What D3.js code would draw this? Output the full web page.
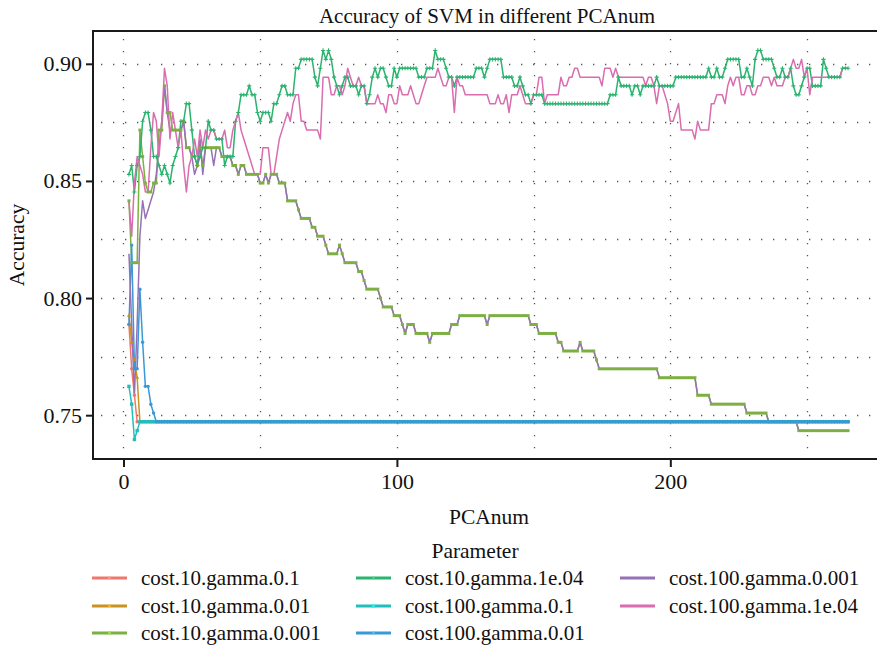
<!DOCTYPE html>
<html>
<head>
<meta charset="utf-8">
<script src="https://cdn.jsdelivr.net/npm/d3@7"></script>
<style>
  body { margin: 0; background: #ffffff; }
  svg text { font-family: "Liberation Serif", "Times New Roman", serif; fill: #111; }
</style>
</head>
<body>
<svg id="chart" width="877" height="650"></svg>
<script>
// ---- data: accuracy per number of principal components -------------------
// Each series is a list of [PCAnum, accuracy] change points; the accuracy
// holds for every PCAnum until the next change point.
const pcaFirst = 2;
const pcaLast = 265;

const seriesNames = [
  "cost.10.gamma.0.1", "cost.10.gamma.0.01", "cost.10.gamma.0.001",
  "cost.10.gamma.1e.04", "cost.100.gamma.0.1", "cost.100.gamma.0.01",
  "cost.100.gamma.0.001", "cost.100.gamma.1e.04"
];
const seriesColors = [
  "#F0776D", "#C99221", "#7DB042", "#2BB36F",
  "#22BEBE", "#3A98D5", "#9771B7", "#D96DB0"
];
const seriesMarkers = ["circle", "triangle", "square", "plus", "square", "circle", "none", "none"];

const cost10gamma01 = [[2,0.7887],[3,0.7698],[4,0.7585],[5,0.7472]];
const cost10gamma001 = [[2,0.7925],[3,0.7811],[4,0.7736],[5,0.7660],[6,0.7472]];
const cost10gamma0001 = [
  [2,0.8415],[3,0.8151],[6,0.8717],[7,0.8604],[8,0.8491],[9,0.8453],[11,0.8491],
  [13,0.8717],[15,0.8906],[16,0.8792],[18,0.8717],[22,0.8755],[23,0.8642],[25,0.8604],
  [27,0.8566],[28,0.8642],[29,0.8566],[30,0.8642],[36,0.8604],[40,0.8566],[42,0.8528],
  [43,0.8566],[45,0.8528],[50,0.8491],[52,0.8528],[53,0.8491],[54,0.8528],[57,0.8491],
  [60,0.8415],[64,0.8377],[65,0.8340],[69,0.8302],[71,0.8264],[74,0.8226],[75,0.8189],
  [79,0.8226],[80,0.8189],[81,0.8151],[86,0.8113],[88,0.8075],[89,0.8038],[94,0.8000],
  [95,0.7962],[99,0.7925],[102,0.7887],[103,0.7849],[104,0.7887],[107,0.7849],[112,0.7811],
  [113,0.7849],[120,0.7887],[123,0.7925],[133,0.7887],[134,0.7925],[149,0.7887],[152,0.7849],
  [159,0.7811],[161,0.7774],[167,0.7811],[168,0.7774],[173,0.7736],[174,0.7698],[196,0.7660],
  [210,0.7585],[215,0.7547],[228,0.7509],[236,0.7472],[247,0.7434]
];
const cost10gamma1e04 = [
  [2,0.8528],[3,0.8566],[4,0.8453],[5,0.8566],[6,0.8604],[7,0.8755],[8,0.8792],[10,0.8717],
  [11,0.8604],[13,0.8566],[14,0.8528],[15,0.8566],[16,0.8528],[17,0.8491],[18,0.8566],
  [19,0.8604],[20,0.8642],[21,0.8755],[23,0.8830],[25,0.8717],[26,0.8604],[27,0.8566],
  [28,0.8604],[29,0.8642],[31,0.8755],[32,0.8717],[34,0.8679],[37,0.8566],[38,0.8604],
  [41,0.8755],[42,0.8792],[43,0.8868],[46,0.8906],[47,0.8868],[49,0.8792],[50,0.8755],
  [51,0.8792],[54,0.8755],[55,0.8830],[57,0.8868],[58,0.8906],[60,0.8868],[63,0.8981],
  [65,0.9019],[70,0.8943],[71,0.8906],[72,0.8981],[73,0.9057],[74,0.9019],[75,0.9057],
  [76,0.9019],[77,0.8943],[78,0.8906],[79,0.8868],[80,0.8906],[81,0.8943],[83,0.8906],
  [86,0.8868],[87,0.8906],[89,0.8830],[90,0.8868],[91,0.8943],[92,0.8981],[93,0.8943],
  [94,0.8981],[96,0.8943],[97,0.8906],[99,0.8981],[100,0.8943],[101,0.8981],[108,0.8943],
  [111,0.8981],[114,0.9057],[115,0.9019],[118,0.8981],[119,0.8943],[121,0.8906],[122,0.8943],
  [129,0.8981],[132,0.8943],[133,0.8981],[134,0.9019],[139,0.8943],[143,0.8906],[145,0.8943],
  [146,0.8906],[147,0.8868],[149,0.8830],[150,0.8868],[154,0.8830],[178,0.8868],[181,0.8943],
  [182,0.8906],[186,0.8868],[187,0.8906],[189,0.8868],[190,0.8906],[195,0.8943],[196,0.8906],
  [202,0.8943],[214,0.8981],[215,0.8943],[217,0.8981],[218,0.8943],[220,0.8981],[221,0.9019],
  [226,0.8943],[228,0.8981],[229,0.8943],[230,0.8906],[231,0.9019],[232,0.9057],[234,0.9019],
  [238,0.8981],[239,0.8943],[241,0.8981],[242,0.8943],[244,0.8981],[245,0.8906],[246,0.8868],
  [248,0.8906],[249,0.8943],[250,0.8981],[252,0.8906],[256,0.9019],[257,0.8981],[258,0.8943],
  [263,0.8981]
];
const cost100gamma01 = [[2,0.7623],[3,0.7547],[4,0.7396],[5,0.7434],[6,0.7472]];
const cost100gamma001 = [
  [2,0.7887],[3,0.8226],[4,0.7698],[6,0.8038],[7,0.7811],[8,0.7623],[10,0.7547],
  [11,0.7509],[12,0.7472]
];
const cost100gamma0001 = [
  [2,0.8189],[3,0.7887],[4,0.7585],[5,0.7887],[6,0.8264],[7,0.8415],[8,0.8340],[9,0.8377],
  [10,0.8415],[11,0.8453],[12,0.8528],[13,0.8642],[14,0.8755],[15,0.8906],[16,0.8792],
  [17,0.8717],[22,0.8755],[23,0.8642],[25,0.8604],[26,0.8528],[27,0.8566],[28,0.8679],
  [29,0.8528],[30,0.8642],[33,0.8566],[34,0.8642],[36,0.8604],[40,0.8566],[42,0.8528],
  [43,0.8566],[45,0.8528],[50,0.8491],[52,0.8528],[53,0.8491],[54,0.8528],[57,0.8491],
  [60,0.8415],[64,0.8377],[65,0.8340],[69,0.8302],[71,0.8264],[74,0.8226],[75,0.8189],
  [79,0.8226],[80,0.8189],[81,0.8151],[86,0.8113],[88,0.8075],[89,0.8038],[94,0.8000],
  [95,0.7962],[99,0.7925],[102,0.7887],[103,0.7849],[104,0.7887],[107,0.7849],[112,0.7811],
  [113,0.7849],[120,0.7887],[123,0.7925],[133,0.7887],[134,0.7925],[149,0.7887],[152,0.7849],
  [159,0.7811],[161,0.7774],[167,0.7811],[168,0.7774],[173,0.7736],[174,0.7698],[196,0.7660],
  [210,0.7585],[215,0.7547],[228,0.7509],[236,0.7472],[247,0.7434]
];
const cost100gamma1e04 = [
  [2,0.8415],[3,0.8264],[4,0.8491],[5,0.8604],[6,0.8566],[7,0.8528],[8,0.8453],[10,0.8642],
  [11,0.8792],[12,0.8755],[13,0.8604],[14,0.8755],[15,0.8981],[16,0.8906],[17,0.8679],
  [18,0.8792],[19,0.8717],[20,0.8642],[21,0.8717],[22,0.8566],[23,0.8453],[24,0.8566],
  [25,0.8604],[26,0.8679],[27,0.8604],[28,0.8717],[29,0.8642],[30,0.8717],[31,0.8679],
  [32,0.8717],[34,0.8679],[37,0.8717],[38,0.8642],[40,0.8717],[41,0.8755],[42,0.8792],
  [43,0.8717],[44,0.8679],[45,0.8642],[46,0.8604],[47,0.8566],[48,0.8528],[51,0.8642],
  [54,0.8528],[56,0.8604],[57,0.8679],[58,0.8717],[59,0.8755],[60,0.8792],[61,0.8755],
  [62,0.8830],[63,0.8868],[65,0.8755],[67,0.8717],[72,0.8679],[73,0.8943],[76,0.8868],
  [78,0.8906],[80,0.8868],[81,0.8906],[82,0.8981],[83,0.8943],[84,0.8906],[86,0.8943],
  [87,0.8906],[89,0.8830],[93,0.8868],[94,0.8830],[96,0.8792],[97,0.8868],[99,0.8830],
  [101,0.8906],[102,0.8868],[105,0.8906],[106,0.8868],[107,0.8830],[109,0.8868],[110,0.8906],
  [111,0.8943],[115,0.8981],[116,0.8943],[117,0.8906],[119,0.8943],[121,0.8792],[122,0.8943],
  [123,0.8906],[125,0.8868],[134,0.8830],[137,0.8868],[138,0.8830],[140,0.8868],[141,0.8792],
  [142,0.8868],[145,0.8906],[146,0.8868],[147,0.8830],[150,0.8868],[152,0.8943],[154,0.8830],
  [155,0.8868],[160,0.8943],[161,0.8906],[163,0.8943],[165,0.8981],[167,0.8943],[175,0.8906],
  [176,0.8981],[179,0.8943],[180,0.8981],[181,0.8943],[191,0.8906],[192,0.8943],[194,0.8906],
  [195,0.8830],[196,0.8906],[198,0.8868],[199,0.8830],[200,0.8755],[202,0.8792],[203,0.8830],
  [204,0.8717],[209,0.8679],[210,0.8755],[211,0.8717],[215,0.8830],[217,0.8868],[220,0.8830],
  [221,0.8906],[222,0.8943],[223,0.8906],[224,0.8943],[226,0.8868],[228,0.8906],[230,0.8868],
  [232,0.8906],[234,0.8943],[237,0.8906],[238,0.8943],[239,0.8906],[242,0.8943],[244,0.8981],
  [245,0.9019],[246,0.8981],[248,0.9019],[249,0.8943],[250,0.8981],[251,0.8868],[252,0.8943],
  [263,0.8981]
];

const seriesSteps = [
  cost10gamma01, cost10gamma001, cost10gamma0001, cost10gamma1e04,
  cost100gamma01, cost100gamma001, cost100gamma0001, cost100gamma1e04
];

const xTickValues = [0, 100, 200];
const xMinorValues = [50, 150, 250];
const yTickValues = [0.75, 0.80, 0.85, 0.90];
const yMinorValues = [0.775, 0.825, 0.875];

// ---- expand change points to one value per PCAnum ------------------------
function expand(steps) {
  const out = [];
  let k = 0;
  for (let n = pcaFirst; n <= pcaLast; n++) {
    while (k + 1 < steps.length && steps[k + 1][0] <= n) k++;
    out.push({ pca: n, acc: steps[k][1] });
  }
  return out;
}
const series = seriesNames.map((name, i) => ({
  name, color: seriesColors[i], marker: seriesMarkers[i], values: expand(seriesSteps[i])
}));

// ---- layout ---------------------------------------------------------------
const svg = d3.select("#chart");
const panel = { left: 93, top: 31, right: 884, bottom: 459 };

const allAcc = series.flatMap(s => s.values.map(v => v.acc));
const [yLo, yHi] = d3.extent(allAcc);
const yPad = (yHi - yLo) * 0.05;
const xPad = (pcaLast - pcaFirst) * 0.05;

const x = d3.scaleLinear().domain([pcaFirst - xPad, pcaLast + xPad]).range([panel.left, panel.right]);
const y = d3.scaleLinear().domain([yLo - yPad, yHi + yPad]).range([panel.bottom, panel.top]);

// dotted grid (major and minor)
const grid = svg.append("g").attr("stroke", "#555").attr("stroke-width", 1.3)
  .attr("stroke-dasharray", "1.3,10.7").attr("fill", "none");
grid.selectAll("line.gy").data(yTickValues.concat(yMinorValues)).join("line")
  .attr("x1", panel.left + 8).attr("x2", panel.right)
  .attr("y1", d => Math.round(y(d)) + 0.5).attr("y2", d => Math.round(y(d)) + 0.5);
grid.selectAll("line.gx").data(xTickValues.concat(xMinorValues)).join("line")
  .attr("y1", panel.top + 8).attr("y2", panel.bottom)
  .attr("x1", d => Math.round(x(d)) + 0.5).attr("x2", d => Math.round(x(d)) + 0.5);

// series lines
const line = d3.line().x(d => x(d.pca)).y(d => y(d.acc));
const plot = svg.append("g");
plot.selectAll("path.series").data(series).join("path")
  .attr("class", "series")
  .attr("fill", "none")
  .attr("stroke", d => d.color)
  .attr("stroke-width", 1.5)
  .attr("stroke-linejoin", "round")
  .attr("d", d => line(d.values));

// point markers, drawn over every line
function markerPath(kind, size) {
  if (kind === "plus") { const h = size / 2; return `M${-h},0H${h}M0,${-h}V${h}`; }
  if (kind === "square") return d3.symbol(d3.symbolSquare, size * size)();
  if (kind === "triangle") return d3.symbol(d3.symbolTriangle, size * size * 0.6)();
  return d3.symbol(d3.symbolCircle, size * size * 0.8)();
}
const markerSize = { circle: 3.4, triangle: 3.4, square: 3.0, plus: 4.2 };
series.forEach((s, i) => {
  if (s.marker === "none") return;
  const sz = (i === 4) ? 3.4 : markerSize[s.marker];
  const path = markerPath(s.marker, sz);
  plot.append("g").selectAll("path").data(s.values).join("path")
    .attr("transform", d => `translate(${x(d.pca)},${y(d.acc)})`)
    .attr("d", path)
    .attr("fill", s.marker === "plus" ? "none" : s.color)
    .attr("stroke", s.marker === "plus" ? s.color : "none")
    .attr("stroke-width", 1.1);
});

// panel frame
svg.append("rect")
  .attr("x", panel.left).attr("y", panel.top)
  .attr("width", panel.right - panel.left).attr("height", panel.bottom - panel.top)
  .attr("fill", "none").attr("stroke", "#1a1a1a").attr("stroke-width", 2);

// axes
const yAxis = d3.axisLeft(y).tickValues(yTickValues).tickFormat(d3.format(".2f")).tickSize(6).tickPadding(4);
const gy = svg.append("g").attr("transform", `translate(${panel.left - 1},0)`).call(yAxis);
const xAxis = d3.axisBottom(x).tickValues(xTickValues).tickFormat(d3.format("d")).tickSize(7).tickPadding(6);
const gx = svg.append("g").attr("transform", `translate(0,${panel.bottom + 1})`).call(xAxis);
[gx, gy].forEach(g => {
  g.select(".domain").remove();
  g.selectAll(".tick line").attr("stroke", "#1a1a1a").attr("stroke-width", 2);
  g.selectAll(".tick text").attr("font-size", 22).attr("fill", "#111")
    .style("font-family", '"Liberation Serif", serif');
});

// titles
svg.append("text").attr("x", 487).attr("y", 23).attr("text-anchor", "middle")
  .attr("font-size", 21).text("Accuracy of SVM in different PCAnum");
svg.append("text").attr("x", 489).attr("y", 524).attr("text-anchor", "middle")
  .attr("font-size", 21.5).text("PCAnum");
svg.append("text").attr("transform", `translate(24,${(panel.top + panel.bottom) / 2}) rotate(-90)`)
  .attr("text-anchor", "middle").attr("font-size", 21.5).text("Accuracy");

// legend
const legend = svg.append("g");
legend.append("text").attr("x", 475).attr("y", 558).attr("text-anchor", "middle")
  .attr("font-size", 21.5).text("Parameter");
const colX = [92, 356, 620];
const rowY = [578, 606, 633];
series.forEach((s, i) => {
  const col = Math.floor(i / 3), row = i % 3;
  const g = legend.append("g").attr("transform", `translate(${colX[col]},${rowY[row]})`);
  g.append("line").attr("x1", 0).attr("x2", 35).attr("y1", 0).attr("y2", 0)
    .attr("stroke", s.color).attr("stroke-width", 3);
  if (s.marker !== "none") {
    g.append("path").attr("transform", "translate(17.5,0)")
      .attr("d", markerPath(s.marker, 3))
      .attr("fill", s.marker === "plus" ? "none" : d3.color(s.color).brighter(0.6))
      .attr("stroke", s.marker === "plus" ? d3.color(s.color).brighter(0.6) : "none")
      .attr("stroke-width", 1);
  }
  g.append("text").attr("x", 49).attr("y", 7).attr("font-size", 21).text(s.name);
});
</script>
</body>
</html>
